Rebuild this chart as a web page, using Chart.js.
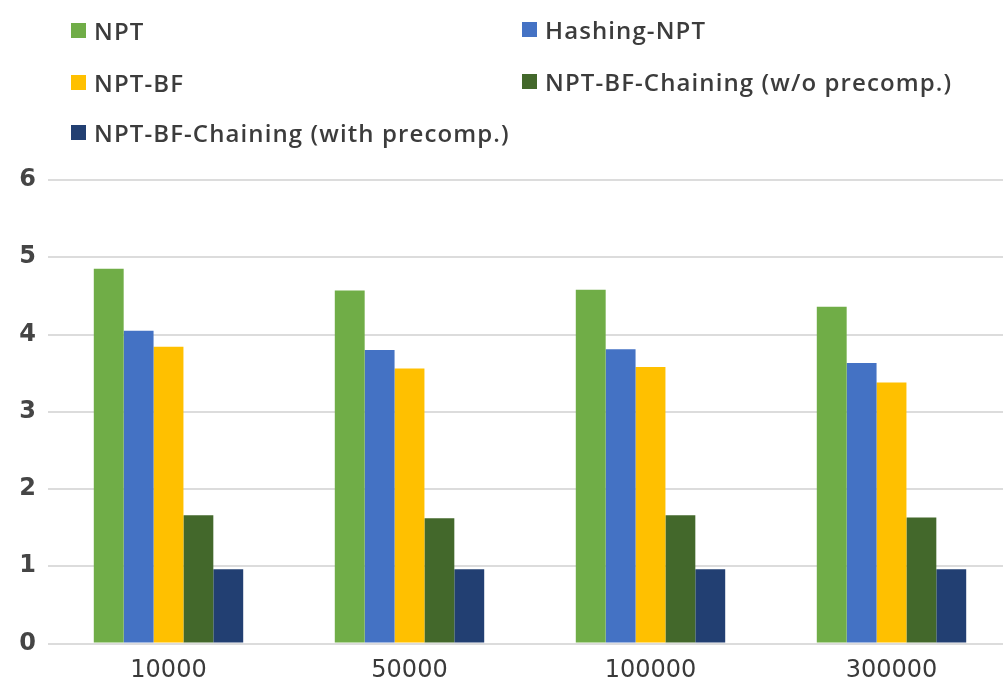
<!DOCTYPE html>
<html>
<head>
<meta charset="utf-8">
<script src="https://cdn.jsdelivr.net/npm/chart.js@4/dist/chart.umd.min.js"></script>
<style>
  html, body { margin: 0; padding: 0; background: #ffffff; overflow: hidden; width: 1003px; height: 681px; }
  #wrap { position: absolute; left: 0; top: 0; width: 1012px; height: 681px; }
  #legend { position: absolute; left: 0; top: 0; width: 1003px; height: 160px; font-family: "Open Sans", sans-serif; font-weight: 600; font-size: 24px; letter-spacing: 1.1px; color: #3c3c3c; }
  .item { position: absolute; display: flex; align-items: center; white-space: nowrap; }
  .sw { width: 15px; height: 15px; margin-right: 8px; }
</style>
</head>
<body>
<div id="wrap"><canvas id="c"></canvas></div>
<div id="legend"></div>
<script>
// Dataset sizes on the x axis
const categories = ['10000', '50000', '100000', '300000'];

// Series values (time per method)
const npt            = [4.85, 4.57, 4.58, 4.36];
const hashingNpt     = [4.05, 3.80, 3.81, 3.63];
const nptBf          = [3.84, 3.56, 3.58, 3.38];
const chainingNoPre  = [1.66, 1.62, 1.66, 1.63];
const chainingPre    = [0.96, 0.96, 0.96, 0.96];

const seriesNames = ['NPT', 'Hashing-NPT', 'NPT-BF', 'NPT-BF-Chaining (w/o precomp.)', 'NPT-BF-Chaining (with precomp.)'];
const seriesColors = ['#70ad47', '#4472c4', '#ffc000', '#43682b', '#223f72'];
const seriesValues = [npt, hashingNpt, nptBf, chainingNoPre, chainingPre];

// Y axis ticks
const yTicks = [0, 1, 2, 3, 4, 5, 6];

const datasets = seriesNames.map((name, i) => ({
  label: name,
  data: seriesValues[i],
  backgroundColor: seriesColors[i],
  borderWidth: 0,
  categoryPercentage: 0.62,
  barPercentage: 1.0
}));

const chart = new Chart(document.getElementById('c'), {
  type: 'bar',
  data: { labels: categories, datasets },
  options: {
    responsive: true,
    maintainAspectRatio: false,
    animation: false,
    layout: { padding: { top: 180, right: 0, left: 2, bottom: 0 } },
    plugins: { legend: { display: false }, tooltip: { enabled: false } },
    scales: {
      x: {
        grid: { display: false, drawTicks: false },
        border: { display: false },
        ticks: { color: '#3a3a3a', font: { family: 'DejaVu Sans', size: 24 }, padding: 13 },
        afterFit: s => { s.height = 37.5; }
      },
      y: {
        min: 0, max: 6,
        afterBuildTicks: s => { s.ticks = yTicks.map(v => ({ value: v })); },
        grid: { color: '#dcdcdc', lineWidth: 2, drawTicks: false },
        border: { display: false },
        ticks: { color: '#454545', font: { family: 'DejaVu Sans', size: 24, weight: 'bold' }, padding: 12 },
        afterFit: s => { s.width = 46; }
      }
    }
  }
});

// Two-column legend built from the chart's datasets
const legendPos = [
  [71, 31], [522, 30],
  [71, 83], [522, 82],
  [71, 133]
];
const legend = document.getElementById('legend');
chart.data.datasets.forEach((ds, i) => {
  const el = document.createElement('div');
  el.className = 'item';
  el.style.left = legendPos[i][0] + 'px';
  el.style.top = (legendPos[i][1] - 17) + 'px';
  const sw = document.createElement('span');
  sw.className = 'sw';
  sw.style.background = ds.backgroundColor;
  const tx = document.createElement('span');
  tx.textContent = ds.label;
  el.appendChild(sw);
  el.appendChild(tx);
  legend.appendChild(el);
});
</script>
</body>
</html>
